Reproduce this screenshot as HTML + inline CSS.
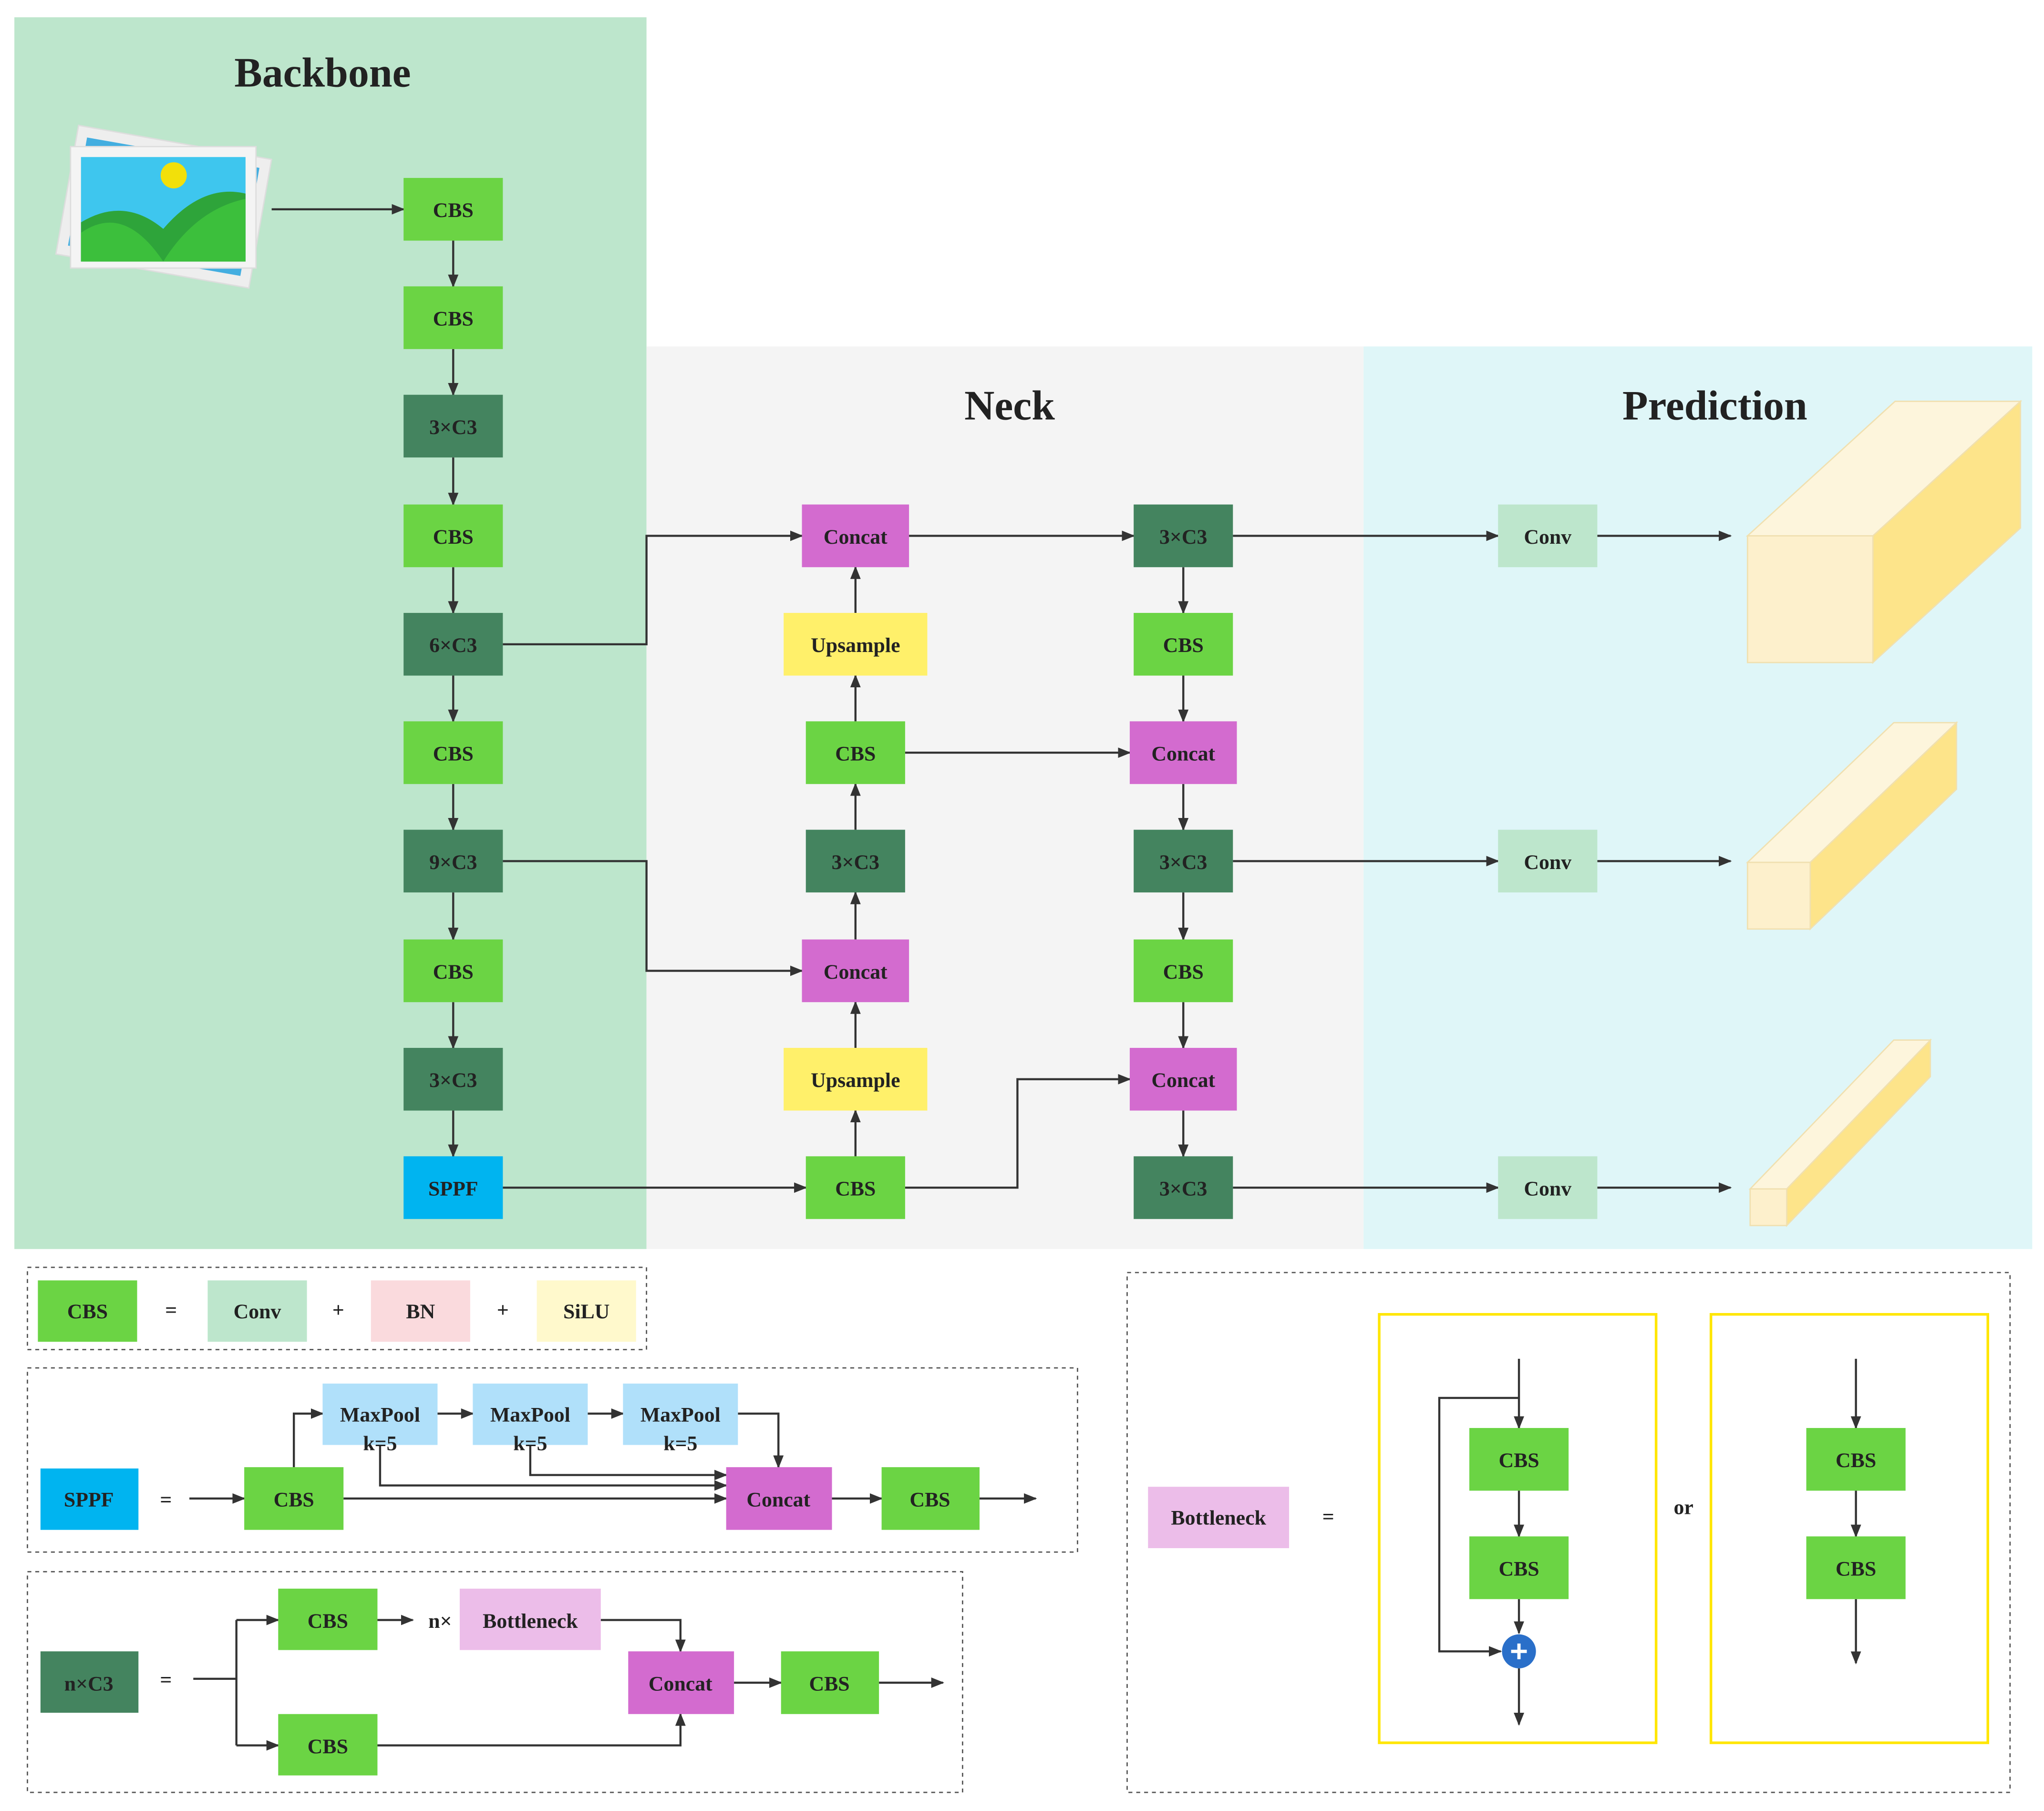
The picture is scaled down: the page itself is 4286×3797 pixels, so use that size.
<!DOCTYPE html>
<html><head><meta charset="utf-8"><style>html,body{margin:0;padding:0;background:#fff}svg{display:block}</style></head>
<body>
<svg width="4286" height="3797" viewBox="0 0 1565 1386" xmlns="http://www.w3.org/2000/svg" font-family="Liberation Serif, serif" font-weight="bold">
<defs>
<marker id="a" markerWidth="10" markerHeight="8" refX="9" refY="4" orient="auto" markerUnits="userSpaceOnUse"><path d="M0,0 L10,4 L0,8 z" fill="#333"/></marker>
</defs>
<rect x="11" y="13" width="484" height="943" fill="#bde6cc"/>
<rect x="495" y="265" width="549" height="691" fill="#f4f4f4"/>
<rect x="1044" y="265" width="512" height="691" fill="#dff6f8"/>
<g font-size="32" fill="#222" text-anchor="middle">
<text x="247" y="66">Backbone</text><text x="773" y="321">Neck</text><text x="1313" y="321">Prediction</text></g>
<!-- image icon -->
<g transform="rotate(10 125 160)"><rect x="50" y="108" width="150" height="100" fill="#eee" stroke="#ddd"/><rect x="58" y="116" width="134" height="84" fill="#43aee0"/></g>
<rect x="54" y="112" width="142" height="93" fill="#f4f4f4" stroke="#ddd"/>
<rect x="62" y="120" width="126" height="80" fill="#3ec6ee"/>
<path d="M62,200 L62,170 Q95,150 125,175 Q155,140 188,148 L188,200 z" fill="#2ea43a"/>
<path d="M62,200 L62,178 Q95,155 125,200 z M125,200 Q150,160 188,152 L188,200z" fill="#3cbf3c"/>
<circle cx="133" cy="134" r="10" fill="#f2e00a"/>
<g stroke="#333" stroke-width="1.6" fill="none" marker-end="url(#a)">
<line x1="208" y1="160" x2="309" y2="160"/>
<line x1="347" y1="184" x2="347" y2="219"/><line x1="347" y1="267" x2="347" y2="302"/><line x1="347" y1="350" x2="347" y2="386"/><line x1="347" y1="434" x2="347" y2="469"/><line x1="347" y1="517" x2="347" y2="552"/><line x1="347" y1="600" x2="347" y2="635"/><line x1="347" y1="683" x2="347" y2="719"/><line x1="347" y1="767" x2="347" y2="802"/><line x1="347" y1="850" x2="347" y2="885"/>
<polyline points="385,493 495,493 495,410 614,410"/>
<polyline points="385,659 495,659 495,743 614,743"/>
<line x1="385" y1="909" x2="617" y2="909"/>
<line x1="655" y1="885" x2="655" y2="850"/><line x1="655" y1="802" x2="655" y2="767"/><line x1="655" y1="719" x2="655" y2="683"/><line x1="655" y1="635" x2="655" y2="600"/><line x1="655" y1="552" x2="655" y2="517"/><line x1="655" y1="469" x2="655" y2="434"/>
<line x1="696" y1="410" x2="868" y2="410"/><line x1="693" y1="576" x2="865" y2="576"/>
<polyline points="693,909 779,909 779,826 865,826"/>
<line x1="906" y1="434" x2="906" y2="469"/><line x1="906" y1="517" x2="906" y2="552"/><line x1="906" y1="600" x2="906" y2="635"/><line x1="906" y1="683" x2="906" y2="719"/><line x1="906" y1="767" x2="906" y2="802"/><line x1="906" y1="850" x2="906" y2="885"/>
<line x1="944" y1="410" x2="1147" y2="410"/><line x1="944" y1="659" x2="1147" y2="659"/><line x1="944" y1="909" x2="1147" y2="909"/>
<line x1="1223" y1="410" x2="1325" y2="410"/><line x1="1223" y1="659" x2="1325" y2="659"/><line x1="1223" y1="909" x2="1325" y2="909"/>
</g>
<!-- 3D boxes -->
<g stroke="#f0e0b0" stroke-width="1">
<polygon points="1338,410 1451,307 1547,307 1434,410" fill="#fdf5dc"/><polygon points="1434,410 1547,307 1547,404 1434,507" fill="#fde48a"/><rect x="1338" y="410" width="96" height="97" fill="#fdf0cc"/>
<polygon points="1338,660 1450,553 1498,553 1386,660" fill="#fdf5dc"/><polygon points="1386,660 1498,553 1498,604 1386,711" fill="#fde48a"/><rect x="1338" y="660" width="48" height="51" fill="#fdf0cc"/>
<polygon points="1340,910 1450,796 1478,796 1368,910" fill="#fdf5dc"/><polygon points="1368,910 1478,796 1478,824 1368,938" fill="#fde48a"/><rect x="1340" y="910" width="28" height="28" fill="#fdf0cc"/>
</g>
<g font-size="16" text-anchor="middle" fill="#222">
<!-- backbone -->
<rect x="309" y="136" width="76" height="48" fill="#6bd444"/><text x="347" y="166">CBS</text>
<rect x="309" y="219" width="76" height="48" fill="#6bd444"/><text x="347" y="249">CBS</text>
<rect x="309" y="302" width="76" height="48" fill="#44845f"/><text x="347" y="332">3×C3</text>
<rect x="309" y="386" width="76" height="48" fill="#6bd444"/><text x="347" y="416">CBS</text>
<rect x="309" y="469" width="76" height="48" fill="#44845f"/><text x="347" y="499">6×C3</text>
<rect x="309" y="552" width="76" height="48" fill="#6bd444"/><text x="347" y="582">CBS</text>
<rect x="309" y="635" width="76" height="48" fill="#44845f"/><text x="347" y="665">9×C3</text>
<rect x="309" y="719" width="76" height="48" fill="#6bd444"/><text x="347" y="749">CBS</text>
<rect x="309" y="802" width="76" height="48" fill="#44845f"/><text x="347" y="832">3×C3</text>
<rect x="309" y="885" width="76" height="48" fill="#00b4f0"/><text x="347" y="915">SPPF</text>
<!-- neck col1 -->
<rect x="614" y="386" width="82" height="48" fill="#d36bcf"/><text x="655" y="416">Concat</text>
<rect x="600" y="469" width="110" height="48" fill="#fff06a"/><text x="655" y="499">Upsample</text>
<rect x="617" y="552" width="76" height="48" fill="#6bd444"/><text x="655" y="582">CBS</text>
<rect x="617" y="635" width="76" height="48" fill="#44845f"/><text x="655" y="665">3×C3</text>
<rect x="614" y="719" width="82" height="48" fill="#d36bcf"/><text x="655" y="749">Concat</text>
<rect x="600" y="802" width="110" height="48" fill="#fff06a"/><text x="655" y="832">Upsample</text>
<rect x="617" y="885" width="76" height="48" fill="#6bd444"/><text x="655" y="915">CBS</text>
<!-- neck col2 -->
<rect x="868" y="386" width="76" height="48" fill="#44845f"/><text x="906" y="416">3×C3</text>
<rect x="868" y="469" width="76" height="48" fill="#6bd444"/><text x="906" y="499">CBS</text>
<rect x="865" y="552" width="82" height="48" fill="#d36bcf"/><text x="906" y="582">Concat</text>
<rect x="868" y="635" width="76" height="48" fill="#44845f"/><text x="906" y="665">3×C3</text>
<rect x="868" y="719" width="76" height="48" fill="#6bd444"/><text x="906" y="749">CBS</text>
<rect x="865" y="802" width="82" height="48" fill="#d36bcf"/><text x="906" y="832">Concat</text>
<rect x="868" y="885" width="76" height="48" fill="#44845f"/><text x="906" y="915">3×C3</text>
<!-- conv -->
<rect x="1147" y="386" width="76" height="48" fill="#bde6cc"/><text x="1185" y="416">Conv</text>
<rect x="1147" y="635" width="76" height="48" fill="#bde6cc"/><text x="1185" y="665">Conv</text>
<rect x="1147" y="885" width="76" height="48" fill="#bde6cc"/><text x="1185" y="915">Conv</text>
</g>
<!-- legend boxes -->
<g fill="none" stroke="#555" stroke-width="1" stroke-dasharray="3,3">
<rect x="21" y="970" width="474" height="63"/><rect x="21" y="1047" width="804" height="141"/><rect x="21" y="1203" width="716" height="169"/><rect x="863" y="974" width="676" height="398"/>
</g>
<g stroke="#333" stroke-width="1.6" fill="none" marker-end="url(#a)">
<line x1="145" y1="1147" x2="187" y2="1147"/>
<polyline points="225,1123 225,1082 247,1082"/>
<line x1="335" y1="1082" x2="362" y2="1082"/><line x1="450" y1="1082" x2="477" y2="1082"/>
<polyline points="565,1082 596,1082 596,1123"/>
<polyline points="291,1106 291,1137 556,1137"/><polyline points="406,1106 406,1129 556,1129"/>
<line x1="263" y1="1147" x2="556" y2="1147"/>
<line x1="637" y1="1147" x2="675" y2="1147"/><line x1="750" y1="1147" x2="793" y2="1147"/>
<line x1="181" y1="1240" x2="213" y2="1240"/><line x1="181" y1="1336" x2="213" y2="1336"/>
<line x1="289" y1="1240" x2="316" y2="1240"/>
<polyline points="460,1240 521,1240 521,1264"/><polyline points="289,1336 521,1336 521,1312"/>
<line x1="562" y1="1288" x2="598" y2="1288"/><line x1="673" y1="1288" x2="722" y2="1288"/>
<line x1="1163" y1="1040" x2="1163" y2="1093"/><line x1="1163" y1="1141" x2="1163" y2="1176"/><line x1="1163" y1="1224" x2="1163" y2="1250"/><line x1="1163" y1="1277" x2="1163" y2="1320"/>
<polyline points="1163,1070 1102,1070 1102,1264 1149,1264"/>
<line x1="1421" y1="1040" x2="1421" y2="1093"/><line x1="1421" y1="1141" x2="1421" y2="1176"/><line x1="1421" y1="1224" x2="1421" y2="1273"/>
</g>
<g stroke="#333" stroke-width="1.6"><line x1="148" y1="1285" x2="181" y2="1285"/><line x1="181" y1="1240" x2="181" y2="1336"/></g>
<rect x="1056" y="1006" width="212" height="328" fill="none" stroke="#ffe600" stroke-width="2"/>
<rect x="1310" y="1006" width="212" height="328" fill="none" stroke="#ffe600" stroke-width="2"/>
<circle cx="1163" cy="1264" r="13" fill="#2a6fc9"/>
<path d="M1157,1264 H1169 M1163,1258 V1270" stroke="#fff" stroke-width="2.5"/>
<g font-size="16" text-anchor="middle" fill="#222">
<rect x="29" y="980" width="76" height="47" fill="#6bd444"/><text x="67" y="1009">CBS</text>
<text x="131" y="1008">=</text>
<rect x="159" y="980" width="76" height="47" fill="#bde6cc"/><text x="197" y="1009">Conv</text>
<text x="259" y="1008">+</text>
<rect x="284" y="980" width="76" height="47" fill="#fadadd"/><text x="322" y="1009">BN</text>
<text x="385" y="1008">+</text>
<rect x="411" y="980" width="76" height="47" fill="#fff9cc"/><text x="449" y="1009">SiLU</text>
<rect x="31" y="1124" width="75" height="47" fill="#00b4f0"/><text x="68" y="1153">SPPF</text>
<text x="127" y="1153">=</text>
<rect x="187" y="1123" width="76" height="48" fill="#6bd444"/><text x="225" y="1153">CBS</text>
<rect x="247" y="1059" width="88" height="47" fill="#b0e0fa"/><text x="291" y="1088">MaxPool</text><text x="291" y="1110">k=5</text>
<rect x="362" y="1059" width="88" height="47" fill="#b0e0fa"/><text x="406" y="1088">MaxPool</text><text x="406" y="1110">k=5</text>
<rect x="477" y="1059" width="88" height="47" fill="#b0e0fa"/><text x="521" y="1088">MaxPool</text><text x="521" y="1110">k=5</text>
<rect x="556" y="1123" width="81" height="48" fill="#d36bcf"/><text x="596" y="1153">Concat</text>
<rect x="675" y="1123" width="75" height="48" fill="#6bd444"/><text x="712" y="1153">CBS</text>
<rect x="31" y="1264" width="75" height="47" fill="#44845f"/><text x="68" y="1294">n×C3</text>
<text x="127" y="1291">=</text>
<rect x="213" y="1216" width="76" height="47" fill="#6bd444"/><text x="251" y="1246">CBS</text>
<rect x="213" y="1312" width="76" height="47" fill="#6bd444"/><text x="251" y="1342">CBS</text>
<text x="337" y="1246">n×</text>
<rect x="352" y="1216" width="108" height="47" fill="#ecbde9"/><text x="406" y="1246">Bottleneck</text>
<rect x="481" y="1264" width="81" height="48" fill="#d36bcf"/><text x="521" y="1294">Concat</text>
<rect x="598" y="1264" width="75" height="48" fill="#6bd444"/><text x="635" y="1294">CBS</text>
<rect x="879" y="1138" width="108" height="47" fill="#ecbde9"/><text x="933" y="1167">Bottleneck</text>
<text x="1017" y="1166">=</text>
<rect x="1125" y="1093" width="76" height="48" fill="#6bd444"/><text x="1163" y="1123">CBS</text>
<rect x="1125" y="1176" width="76" height="48" fill="#6bd444"/><text x="1163" y="1206">CBS</text>
<text x="1289" y="1159">or</text>
<rect x="1383" y="1093" width="76" height="48" fill="#6bd444"/><text x="1421" y="1123">CBS</text>
<rect x="1383" y="1176" width="76" height="48" fill="#6bd444"/><text x="1421" y="1206">CBS</text>
</g>
</svg>
</body></html>
